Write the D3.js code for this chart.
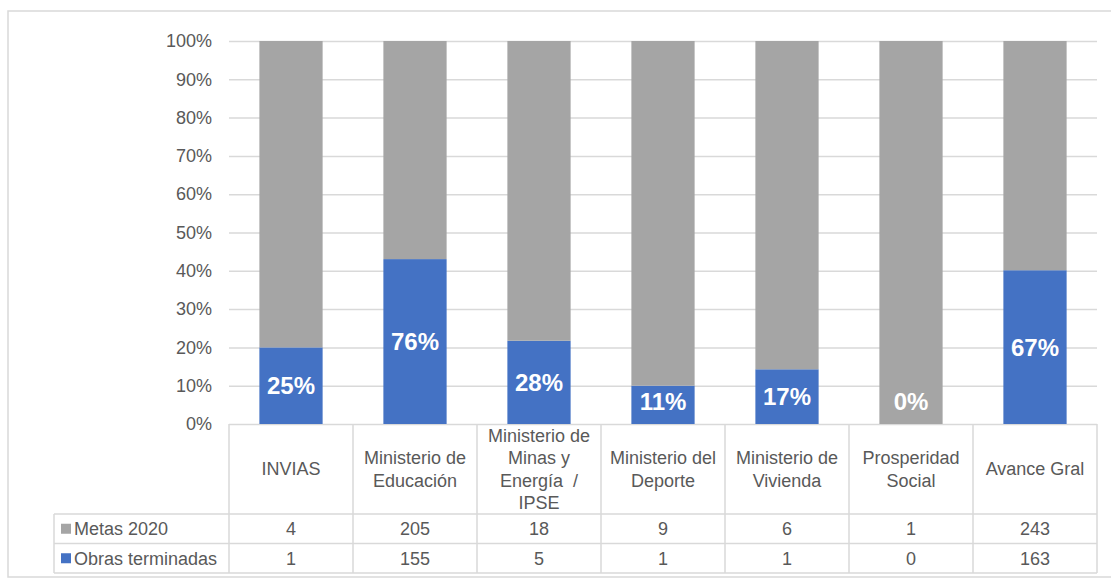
<!DOCTYPE html>
<html>
<head>
<meta charset="utf-8">
<script src="https://cdn.jsdelivr.net/npm/d3@7"></script>
<style>
  body { margin: 0; background: #fff; }
  text { font-family: "Liberation Sans", Arial, sans-serif; white-space: pre; }
</style>
</head>
<body>
<svg id="chart"></svg>
<script>
// categories (line breaks as in the table header)
var categories = [
    ["INVIAS"],
    ["Ministerio de", "Educación"],
    ["Ministerio de", "Minas y", "Energía  /", "IPSE"],
    ["Ministerio del", "Deporte"],
    ["Ministerio de", "Vivienda"],
    ["Prosperidad", "Social"],
    ["Avance Gral"]
];
var metas = [4, 205, 18, 9, 6, 1, 243];
var obras = [1, 155, 5, 1, 1, 0, 163];
var barLabels = ["25%", "76%", "28%", "11%", "17%", "0%", "67%"];
var yTicks = [0, 0.1, 0.2, 0.3, 0.4, 0.5, 0.6, 0.7, 0.8, 0.9, 1];
var seriesNames = ["Metas 2020", "Obras terminadas"];

var svgWidth = 1111, svgHeight = 581;
var colMetas = "#A5A5A5", colObras = "#4472C4";
var gridCol = "#D9D9D9", textCol = "#595959";

var plot = {left: 229, right: 1097, top: 41, bottom: 424};
var headerBottom = 514, rowH = 29.5;
var legendLeft = 54;

var svg = d3.select("#chart")
    .attr("width", svgWidth)
    .attr("height", svgHeight);

// outer frame
svg.append("rect")
    .attr("x", 8).attr("y", 11)
    .attr("width", 1120).attr("height", 566)
    .attr("fill", "none")
    .attr("stroke", "#D9D9D9")
    .attr("stroke-width", 1.5);

var keys = categories.map(function(c) { return c.join(" "); });

var rows = keys.map(function(k, i) {
    return {cat: k, obras: obras[i], metas: metas[i]};
});

var stack = d3.stack()
    .keys(["obras", "metas"])
    .offset(d3.stackOffsetExpand);
var stacked = stack(rows);

var xScale = d3.scaleBand()
    .domain(keys)
    .range([plot.left, plot.right])
    .paddingInner(0.49)
    .paddingOuter(0.245);

var yScale = d3.scaleLinear()
    .domain([0, 1])
    .range([plot.bottom, plot.top]);

/*
    GRID + Y AXIS
*/
var yAxis = d3.axisLeft(yScale)
    .tickValues(yTicks)
    .tickFormat(d3.format(".0%"))
    .tickSize(-(plot.right - plot.left))
    .tickPadding(17);

var gy = svg.append("g")
    .attr("transform", "translate(" + plot.left + ",0)")
    .call(yAxis);
gy.select(".domain").remove();
gy.selectAll(".tick line")
    .attr("stroke", gridCol)
    .attr("stroke-width", 1.5);
gy.selectAll(".tick text")
    .attr("fill", textCol)
    .style("font-size", "18px");

/*
    BARS
*/
var colors = {obras: colObras, metas: colMetas};

svg.append("g").selectAll("g")
    .data(stacked)
    .join("g")
    .attr("fill", function(s) { return colors[s.key]; })
    .selectAll("rect")
    .data(function(s) { return s; })
    .join("rect")
    .attr("x", function(d) { return xScale(d.data.cat); })
    .attr("width", xScale.bandwidth())
    .attr("y", function(d) { return yScale(d[1]); })
    .attr("height", function(d) { return yScale(d[0]) - yScale(d[1]); });

// bar labels, centred in the blue segment
svg.append("g").selectAll("text")
    .data(stacked[0])
    .join("text")
    .attr("x", function(d) { return xScale(d.data.cat) + xScale.bandwidth() / 2; })
    .attr("y", function(d) {
        var mid = (yScale(d[0]) + yScale(d[1])) / 2;
        return Math.min(mid, plot.bottom - 23);
    })
    .attr("dy", "0.36em")
    .attr("text-anchor", "middle")
    .attr("fill", "#fff")
    .style("font-size", "24px")
    .style("font-weight", "bold")
    .text(function(d, i) { return barLabels[i]; });

/*
    DATA TABLE
*/
var step = xScale.step();
var tableBottom = headerBottom + 2 * rowH;
var t = svg.append("g")
    .attr("stroke", gridCol)
    .attr("stroke-width", 1.5);

// vertical lines of the category columns
d3.range(keys.length + 1).forEach(function(i) {
    t.append("line")
        .attr("x1", plot.left + i * step).attr("x2", plot.left + i * step)
        .attr("y1", plot.bottom).attr("y2", tableBottom);
});
// legend column left edge
t.append("line")
    .attr("x1", legendLeft).attr("x2", legendLeft)
    .attr("y1", headerBottom).attr("y2", tableBottom);
// horizontal lines
[headerBottom, headerBottom + rowH, tableBottom].forEach(function(y) {
    t.append("line")
        .attr("x1", legendLeft).attr("x2", plot.right)
        .attr("y1", y).attr("y2", y);
});

// header texts
var lineH = 22.5;
var hdr = svg.append("g")
    .attr("fill", textCol)
    .style("font-size", "18px")
    .attr("text-anchor", "middle");

categories.forEach(function(lines, i) {
    var cx = xScale(keys[i]) + xScale.bandwidth() / 2;
    var cy = (plot.bottom + headerBottom) / 2;
    var y0 = cy - (lines.length - 1) * lineH / 2;
    lines.forEach(function(l, j) {
        hdr.append("text")
            .attr("x", cx)
            .attr("y", y0 + j * lineH)
            .attr("dy", "0.36em")
            .text(l);
    });
});

// value rows
[metas, obras].forEach(function(arr, r) {
    var cy = headerBottom + rowH * r + rowH / 2;
    arr.forEach(function(v, i) {
        hdr.append("text")
            .attr("x", xScale(keys[i]) + xScale.bandwidth() / 2)
            .attr("y", cy)
            .attr("dy", "0.36em")
            .text(v);
    });
    // legend key
    svg.append("rect")
        .attr("x", legendLeft + 7)
        .attr("y", cy - 5)
        .attr("width", 10).attr("height", 10)
        .attr("fill", r === 0 ? colMetas : colObras);
    svg.append("text")
        .attr("x", legendLeft + 20)
        .attr("y", cy)
        .attr("dy", "0.36em")
        .attr("fill", textCol)
        .style("font-size", "18px")
        .text(seriesNames[r]);
});
</script>
</body>
</html>
